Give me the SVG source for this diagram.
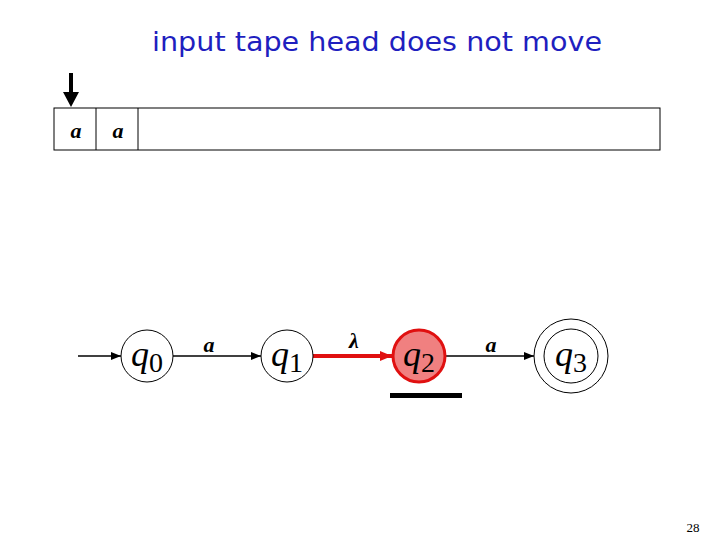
<svg xmlns="http://www.w3.org/2000/svg" width="720" height="540" viewBox="0 0 720 540">
<style>
.title{font-family:"DejaVu Sans",sans-serif;font-size:26px;fill:#1f1fbf}
.sym{font-family:"Liberation Serif",serif;font-style:italic;font-weight:bold;font-size:22px;fill:#000}
.q{font-family:"Liberation Serif",serif;font-style:italic;font-size:36px;fill:#000}
.sub{font-family:"Liberation Serif",serif;font-size:28px;font-style:normal}
.node{fill:#fff;stroke:#000;stroke-width:1}
.edge{stroke:#000;stroke-width:1.5;fill:none}
</style>
<defs>
<marker id="ah" markerWidth="10" markerHeight="8" refX="10" refY="4" orient="auto" markerUnits="userSpaceOnUse"><path d="M0,0 L10,4 L0,8 Z" fill="#000"/></marker>
<marker id="ahr" markerWidth="12" markerHeight="10" refX="12" refY="5" orient="auto" markerUnits="userSpaceOnUse"><path d="M0,0 L12,5 L0,10 Z" fill="#e01010"/></marker>
</defs>
<rect width="720" height="540" fill="#fff"/>
<text class="title" x="377" y="51" text-anchor="middle" textLength="450" lengthAdjust="spacingAndGlyphs">input tape head does not move</text>
<g id="tape">
<rect x="54" y="108" width="606" height="42" fill="#fff" stroke="#000" stroke-width="1"/>
<line x1="96" y1="108" x2="96" y2="150" stroke="#000"/>
<line x1="138" y1="108" x2="138" y2="150" stroke="#000"/>
<text class="sym" x="76" y="138" text-anchor="middle">a</text>
<text class="sym" x="118" y="138" text-anchor="middle">a</text>
</g>
<g id="head">
<line x1="71" y1="73" x2="71" y2="92" stroke="#000" stroke-width="4"/>
<path d="M63,92 L79,92 L71,107 Z" fill="#000"/>
</g>
<g id="connectors">
<line class="edge" x1="78" y1="356" x2="121" y2="356" marker-end="url(#ah)"/>
<line class="edge" x1="173" y1="356" x2="261" y2="356" marker-end="url(#ah)"/>
<text class="sym" x="209" y="352" text-anchor="middle">a</text>
<line x1="313" y1="356" x2="392" y2="356" stroke="#e01010" stroke-width="4" marker-end="url(#ahr)"/>
<text class="sym" x="354" y="348" text-anchor="middle">λ</text>
<line class="edge" x1="446" y1="356" x2="534" y2="356" marker-end="url(#ah)"/>
<text class="sym" x="491" y="352" text-anchor="middle">a</text>
</g>
<g id="q0">
<circle class="node" cx="147" cy="356" r="26"/>
<text class="q" x="147" y="366" text-anchor="middle">q<tspan class="sub" dy="6">0</tspan></text>
</g>
<g id="q1">
<circle class="node" cx="287" cy="356" r="26"/>
<text class="q" x="287" y="366" text-anchor="middle">q<tspan class="sub" dy="6">1</tspan></text>
</g>
<g id="q2">
<circle cx="419" cy="356" r="26" fill="#f08080" stroke="#e01010" stroke-width="3"/>
<text class="q" x="419" y="366" text-anchor="middle">q<tspan class="sub" dy="6">2</tspan></text>
</g>
<g id="q3">
<circle class="node" cx="571" cy="356" r="37"/>
<circle class="node" cx="571" cy="356" r="27"/>
<text class="q" x="571" y="366" text-anchor="middle">q<tspan class="sub" dy="6">3</tspan></text>
</g>
<rect x="390" y="393" width="72" height="5" fill="#000"/>
<text x="693" y="532" text-anchor="middle" font-family="Liberation Serif,serif" font-size="13" fill="#000">28</text>
</svg>
